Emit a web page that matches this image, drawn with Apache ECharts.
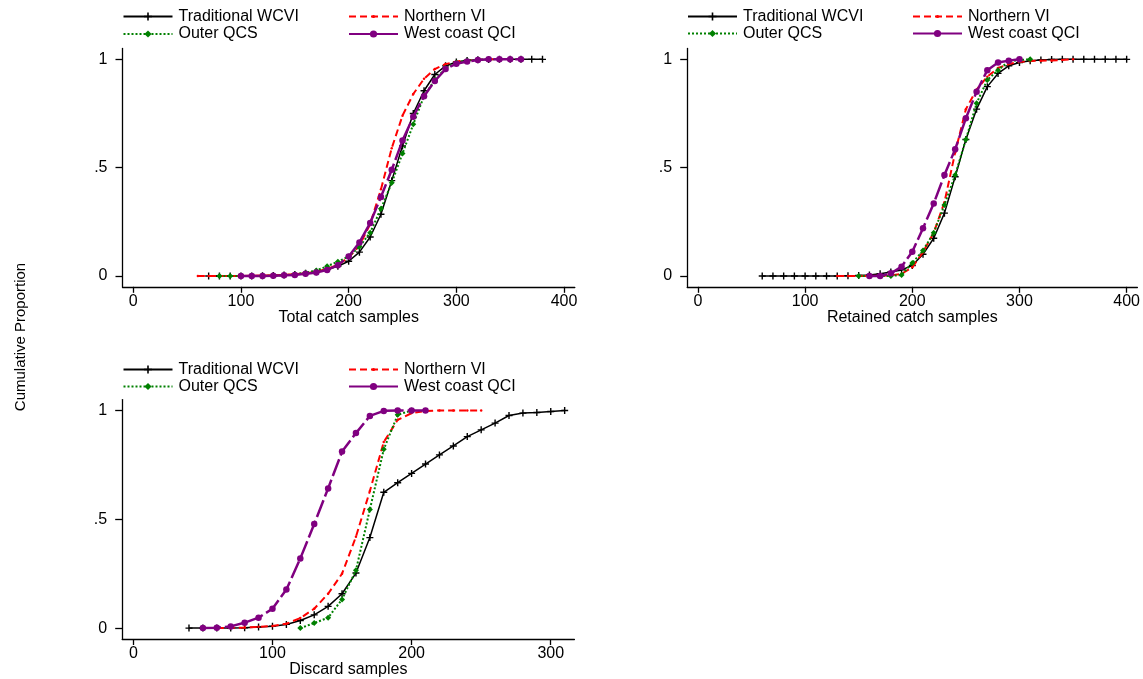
<!DOCTYPE html>
<html>
<head>
<meta charset="utf-8">
<script src="https://cdn.jsdelivr.net/npm/echarts@6/dist/echarts.min.js"></script>
<style>
html,body{margin:0;padding:0;background:#fff;}
#chart{width:1143px;height:679px;}
</style>
</head>
<body>
<div id="chart"></div>
<script>
// ---------------- DATA ----------------
const seriesNames = ['Traditional WCVI', 'Northern VI', 'Outer QCS', 'West coast QCI'];
const panelTitles = ['Total catch samples', 'Retained catch samples', 'Discard samples'];
const xTicksTotal = [0, 100, 200, 300, 400];
const xTicksRetained = [0, 100, 200, 300, 400];
const xTicksDiscard = [0, 100, 200, 300];
const yTicks = [0, 0.5, 1];
const yTickLabels = ['0', '.5', '1'];

// Total catch samples
const totalWCVI = [[70,0],[80,0],[90,0],[100,0],[110,0],[120,0.001],[130,0.002],[140,0.004],[150,0.007],[160,0.012],[170,0.02],[180,0.03],[190,0.045],[200,0.068],[210,0.11],[220,0.18],[230,0.285],[240,0.44],[250,0.6],[260,0.75],[270,0.855],[280,0.93],[290,0.97],[300,0.988],[310,0.995],[320,0.998],[330,0.999],[340,1],[350,1],[360,1],[370,1],[380,1]];
const totalNVI = [[60,0],[70,0],[80,0],[90,0],[100,0],[110,0.001],[120,0.002],[130,0.003],[140,0.005],[150,0.008],[160,0.012],[170,0.02],[180,0.032],[190,0.052],[200,0.085],[210,0.14],[220,0.24],[230,0.4],[240,0.59],[250,0.74],[260,0.84],[270,0.91],[280,0.955],[290,0.978],[300,0.99],[310,0.996],[320,0.998],[330,1],[340,1]];
const totalOQCS = [[80,0],[90,0],[100,0],[110,0],[120,0],[130,0.001],[140,0.003],[150,0.008],[160,0.015],[170,0.025],[180,0.045],[190,0.066],[200,0.09],[210,0.135],[220,0.2],[230,0.31],[240,0.43],[250,0.565],[260,0.7],[270,0.83],[280,0.905],[290,0.96],[300,0.985],[310,0.995],[320,0.998],[330,1]];
const totalWQCI = [[100,0],[110,0],[120,0],[130,0.001],[140,0.003],[150,0.005],[160,0.01],[170,0.016],[180,0.028],[190,0.05],[200,0.09],[210,0.155],[220,0.245],[230,0.365],[240,0.49],[250,0.625],[260,0.735],[270,0.83],[280,0.9],[290,0.955],[300,0.98],[310,0.99],[320,0.997],[330,1],[340,1],[350,1],[360,1]];

// Retained catch samples
const retWCVI = [[60,0],[70,0],[80,0],[90,0],[100,0],[110,0],[120,0],[130,0],[140,0.001],[150,0.002],[160,0.005],[170,0.01],[180,0.018],[190,0.028],[200,0.048],[210,0.1],[220,0.174],[230,0.29],[240,0.458],[250,0.63],[260,0.77],[270,0.874],[280,0.935],[290,0.97],[300,0.985],[310,0.993],[320,0.997],[330,0.999],[340,1],[350,1],[360,1],[370,1],[380,1],[390,1],[400,1]];
const retNVI = [[130,0],[140,0],[150,0],[160,0],[170,0.001],[180,0.003],[190,0.01],[200,0.04],[210,0.11],[220,0.2],[230,0.34],[240,0.57],[250,0.77],[260,0.86],[270,0.92],[280,0.96],[290,0.978],[300,0.988],[310,0.992],[320,0.994],[330,0.995],[340,0.997],[350,1]];
const retOQCS = [[150,0],[160,0],[170,0],[180,0],[190,0.005],[200,0.06],[210,0.117],[220,0.2],[230,0.328],[240,0.466],[250,0.63],[260,0.797],[270,0.905],[280,0.95],[290,0.99],[300,0.997],[310,1]];
const retWQCI = [[160,0],[170,0],[180,0.012],[190,0.043],[200,0.112],[210,0.22],[220,0.335],[230,0.466],[240,0.585],[250,0.728],[260,0.85],[270,0.95],[280,0.985],[290,0.994],[300,1]];

// Discard samples
const disWCVI = [[40,0],[50,0],[60,0],[70,0],[80,0.0015],[90,0.005],[100,0.009],[110,0.017],[120,0.035],[130,0.061],[140,0.1],[150,0.158],[160,0.253],[170,0.416],[180,0.624],[190,0.668],[200,0.711],[210,0.754],[220,0.796],[230,0.837],[240,0.88],[250,0.911],[260,0.942],[270,0.977],[280,0.988],[290,0.991],[300,0.995],[310,1]];
const disNVI = [[60,0],[70,0.001],[80,0.003],[90,0.006],[100,0.01],[110,0.02],[120,0.046],[130,0.089],[140,0.158],[150,0.25],[160,0.42],[170,0.63],[180,0.855],[190,0.957],[200,0.988],[210,0.998],[220,1],[230,1],[240,1],[250,1]];
const disOQCS = [[120,0],[130,0.023],[140,0.048],[150,0.132],[160,0.266],[170,0.545],[180,0.822],[190,0.98],[200,1]];
const disWQCI = [[50,0],[60,0.002],[70,0.008],[80,0.025],[90,0.048],[100,0.089],[110,0.177],[120,0.32],[130,0.478],[140,0.642],[150,0.811],[160,0.896],[170,0.975],[180,0.998],[190,1],[200,1],[210,1]];

// ---------------- STYLE / LAYOUT ----------------
const FONT = 'Liberation Sans, Arial, Helvetica, sans-serif';
const plusPath = 'path://M4,0h2v4h4v2h-4v4h-2v-4h-4v-2h4z';
const styles = [
  {color: '#000000', symbol: plusPath, symbolSize: 7, legendH: 10, line: {width: 1.5, type: 'solid'}},
  {color: '#ff0000', symbol: 'circle', symbolSize: 2.5, legendH: 4, line: {width: 2, type: [7, 4]}},
  {color: '#008000', symbol: 'diamond', symbolSize: 6, legendH: 9, line: {width: 2, type: [2, 2]}},
  {color: '#800080', symbol: 'circle', symbolSize: 6.5, legendH: 9, line: {width: 2.5, type: [18, 4]}}
];

const panelData = [
  [totalWCVI, totalNVI, totalOQCS, totalWQCI],
  [retWCVI, retNVI, retOQCS, retWQCI],
  [disWCVI, disNVI, disOQCS, disWQCI]
];
const panelTicks = [xTicksTotal, xTicksRetained, xTicksDiscard];
const panelX = [[-10, 410], [-10, 410], [-8, 317]];
const grids = [
  {left: 122.5, top: 48.5, width: 452.3, height: 238.3},
  {left: 687.2, top: 48.5, width: 452.6, height: 238.3},
  {left: 122.2, top: 399.6, width: 452.2, height: 239.5}
];
// legend layout: [col1 left, col2 left, row1 center, row2 center]
const legendLayout = [
  [122.5, 348, 16.5, 34],
  [687, 912, 16.5, 33.5],
  [122.5, 348, 369.5, 386.5]
];

const axisColor = '#000';
const xAxes = [], yAxes = [], series = [], legends = [];
for (let p = 0; p < 3; p++) {
  xAxes.push({
    gridIndex: p, type: 'value', min: panelX[p][0], max: panelX[p][1],
    name: panelTitles[p], nameLocation: 'middle', nameGap: 23, nameMoveOverlap: false,
    nameTextStyle: {fontSize: 16, color: '#000', fontFamily: FONT},
    axisLine: {show: true, onZero: false, lineStyle: {color: axisColor, width: 1.3}},
    axisTick: {show: true, length: 6, customValues: panelTicks[p], lineStyle: {color: axisColor, width: 1.3}},
    axisLabel: {customValues: panelTicks[p], fontSize: 16, color: '#000', margin: 7, fontFamily: FONT},
    splitLine: {show: false}
  });
  yAxes.push({
    gridIndex: p, type: 'value', min: -0.05, max: 1.05,
    axisLine: {show: true, onZero: false, lineStyle: {color: axisColor, width: 1.3}},
    axisTick: {show: true, length: 7, customValues: yTicks, lineStyle: {color: axisColor, width: 1.3}},
    axisLabel: {customValues: yTicks, fontSize: 16, color: '#000', margin: 15, fontFamily: FONT,
      formatter: function (v) { const i = yTicks.indexOf(v); return i >= 0 ? yTickLabels[i] : ''; }},
    splitLine: {show: false}
  });
  for (let s = 0; s < 4; s++) {
    const st = styles[s];
    series.push({
      type: 'line', name: seriesNames[s], xAxisIndex: p, yAxisIndex: p,
      data: panelData[p][s], symbol: st.symbol, symbolSize: st.symbolSize, showSymbol: true,
      itemStyle: {color: st.color},
      lineStyle: {color: st.color, width: st.line.width, type: st.line.type},
      emphasis: {disabled: true}, animation: false, z: 2 + s
    });
    const L = legendLayout[p];
    const left = (s % 2 === 0) ? L[0] : L[1];
    const cy = (s < 2) ? L[2] : L[3];
    const lg = {
      left: left, top: cy - 8, orient: 'horizontal', padding: 0, itemGap: 0,
      itemWidth: 49, itemHeight: st.legendH, selectedMode: false,
      data: [seriesNames[s]],
      textStyle: {fontSize: 16, color: '#000', fontFamily: FONT, padding: [0, 0, 0, 1]}
    };
    if (s === 3) lg.lineStyle = {type: 'solid'};
    legends.push(lg);
  }
}

const chart = echarts.init(document.getElementById('chart'), null, {renderer: 'canvas'});
chart.setOption({
  backgroundColor: '#ffffff',
  animation: false,
  textStyle: {fontFamily: FONT},
  grid: grids,
  xAxis: xAxes,
  yAxis: yAxes,
  legend: legends,
  series: series,
  graphic: [{
    type: 'text', x: 21, y: 337, rotation: Math.PI / 2,
    style: {text: 'Cumulative Proportion', fontSize: 15, fill: '#000', fontFamily: FONT,
      textAlign: 'center', textVerticalAlign: 'middle', verticalAlign: 'middle'}
  }]
});
</script>
</body>
</html>
